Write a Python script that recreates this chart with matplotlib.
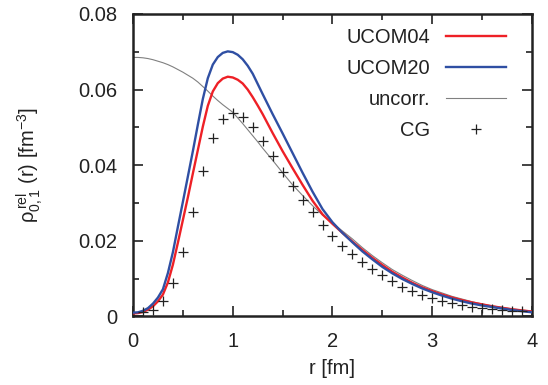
import matplotlib
matplotlib.use("Agg")
import matplotlib.pyplot as plt
from matplotlib.ticker import MultipleLocator, FuncFormatter

plt.rcParams['font.family'] = ['Liberation Sans', 'DejaVu Sans']
plt.rcParams['mathtext.fontset'] = 'custom'
plt.rcParams['mathtext.rm'] = 'Liberation Sans'
plt.rcParams['mathtext.it'] = 'Liberation Sans'

# ---- data ----
r_curve = [0.0, 0.05, 0.1, 0.15, 0.2, 0.25, 0.3, 0.35, 0.4, 0.45, 0.5, 0.55, 0.6,
           0.65, 0.7, 0.75, 0.8, 0.85, 0.9, 0.95, 1.0, 1.05, 1.1, 1.15, 1.2, 1.25,
           1.3, 1.4, 1.5, 1.6, 1.7, 1.8, 1.9, 2.0, 2.1, 2.2, 2.3, 2.4, 2.5, 2.6,
           2.7, 2.8, 2.9, 3.0, 3.1, 3.2, 3.3, 3.4, 3.5, 3.6, 3.7, 3.8, 3.9, 4.0]

ucom04 = [0.0008, 0.0009, 0.0012, 0.0018, 0.0027, 0.0040, 0.0058, 0.0090, 0.0137,
          0.0195, 0.0255, 0.0315, 0.0378, 0.0440, 0.0502, 0.0557, 0.0595, 0.0617,
          0.0629, 0.0634, 0.0632, 0.0626, 0.0616, 0.0600, 0.0580, 0.0558, 0.0535,
          0.0485, 0.0437, 0.0392, 0.0348, 0.0306, 0.0270, 0.0245, 0.0221, 0.0198,
          0.0176, 0.0155, 0.0136, 0.0118, 0.0103, 0.0089, 0.0077, 0.0067, 0.0058,
          0.0050, 0.0043, 0.0037, 0.0032, 0.0027, 0.0023, 0.0019, 0.0016, 0.0013]

ucom20 = [0.0010, 0.0011, 0.0015, 0.0022, 0.0034, 0.0050, 0.0072, 0.0115, 0.0170,
          0.0237, 0.0303, 0.0370, 0.0437, 0.0507, 0.0575, 0.0630, 0.0666, 0.0686,
          0.0697, 0.0701, 0.0699, 0.0692, 0.0680, 0.0663, 0.0642, 0.0615, 0.0588,
          0.0535, 0.0484, 0.0432, 0.0380, 0.0330, 0.0284, 0.0249, 0.0221, 0.0196,
          0.0172, 0.0151, 0.0131, 0.0114, 0.0099, 0.0086, 0.0074, 0.0064, 0.0055,
          0.0047, 0.0040, 0.0034, 0.0029, 0.0025, 0.0021, 0.0017, 0.0014, 0.0011]

uncorr = [0.0685, 0.0685, 0.0684, 0.0682, 0.0679, 0.0675, 0.0671, 0.0666, 0.0660,
          0.0653, 0.0646, 0.0638, 0.0630, 0.0620, 0.0608, 0.0596, 0.0583, 0.0571,
          0.0560, 0.0550, 0.0540, 0.0525, 0.0510, 0.0494, 0.0478, 0.0462, 0.0445,
          0.0413, 0.0380, 0.0348, 0.0320, 0.0293, 0.0268, 0.0247, 0.0226, 0.0205,
          0.0182, 0.0161, 0.0142, 0.0124, 0.0109, 0.0095, 0.0082, 0.0071, 0.0062,
          0.0053, 0.0046, 0.0039, 0.0033, 0.0028, 0.0024, 0.0020, 0.0017, 0.0014]

r_cg = [0.1, 0.2, 0.3, 0.4, 0.5, 0.6, 0.7, 0.8, 0.9, 1.0, 1.1, 1.2, 1.3, 1.4,
        1.5, 1.6, 1.7, 1.8, 1.9, 2.0, 2.1, 2.2, 2.3, 2.4, 2.5, 2.6, 2.7, 2.8,
        2.9, 3.0, 3.1, 3.2, 3.3, 3.4, 3.5, 3.6, 3.7, 3.8, 3.9]
cg = [0.0011, 0.0017, 0.0042, 0.0089, 0.0171, 0.0276, 0.0385, 0.0473, 0.0523,
      0.0537, 0.0528, 0.0500, 0.0464, 0.0424, 0.0383, 0.0346, 0.0308, 0.0276,
      0.0242, 0.0214, 0.0187, 0.0164, 0.0143, 0.0126, 0.0110, 0.0094, 0.0079,
      0.0068, 0.0057, 0.0048, 0.0041, 0.0035, 0.0030, 0.0026, 0.0022, 0.0019,
      0.0017, 0.0015, 0.0014]

labels = ["UCOM04", "UCOM20", "uncorr.", "CG"]

fig = plt.figure(figsize=(5.48, 3.85), dpi=100)
ax = fig.add_axes([0.2427, 0.178, 0.7281, 0.7858])

ax.plot(r_curve, ucom04, color='#ee2026', lw=1.7, label=labels[0], zorder=3)
ax.plot(r_curve, ucom20, color='#2f4fa3', lw=1.7, label=labels[1], zorder=4)
ax.plot(r_curve, uncorr, color='#808080', lw=0.8, label=labels[2], zorder=2)
ax.plot(r_cg, cg, ls='none', marker='+', ms=7, mew=0.9, color='#222222',
        label=labels[3], zorder=5)

ax.set_xlim(0, 4)
ax.set_ylim(0, 0.08)
ax.xaxis.set_major_locator(MultipleLocator(1))
ax.xaxis.set_minor_locator(MultipleLocator(0.5))
ax.yaxis.set_major_locator(MultipleLocator(0.02))
ax.yaxis.set_minor_locator(MultipleLocator(0.01))
ax.xaxis.set_major_formatter(FuncFormatter(lambda v, p: f"{v:g}"))
ax.yaxis.set_major_formatter(FuncFormatter(lambda v, p: "0" if v == 0 else f"{v:.2f}"))

ax.tick_params(which='both', direction='in', top=True, right=True, width=1.2,
               labelsize=14.5, color='#222222', labelcolor='#222222')
ax.tick_params(which='major', length=7, pad=11)
ax.tick_params(which='minor', length=4)
for s in ax.spines.values():
    s.set_linewidth(1.8)
    s.set_color('#222222')

ax.set_xlabel("r [fm]", fontsize=14.5, labelpad=6, color='#222222')
ax.set_ylabel(r"$\rho^{\,\mathrm{rel}}_{0,1}$ (r) [fm$^{-3}$]", fontsize=14.5,
              color='#222222')
ax.yaxis.set_label_coords(-0.22, 0.5)

leg = ax.legend(loc='upper right', bbox_to_anchor=(0.935, 0.955), frameon=False,
                markerfirst=False, fontsize=14.5, handlelength=3.0,
                handletextpad=0.75, labelspacing=0.6, borderpad=0, borderaxespad=0)
for t in leg.get_texts():
    t.set_ha('right')
    t.set_color('#222222')

fig.savefig("out.png", dpi=100)
